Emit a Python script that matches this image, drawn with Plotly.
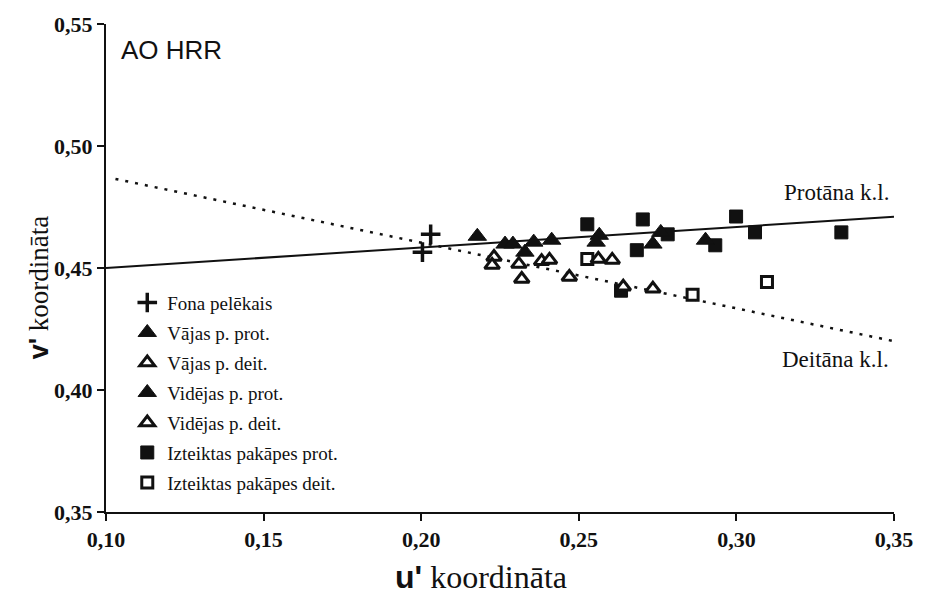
import plotly.graph_objects as go

# Confusion lines in the u'v' diagram
protan_line_u = [0.10, 0.35]
protan_line_v = [0.450, 0.471]
deutan_line_u = [0.103, 0.35]
deutan_line_v = [0.4865, 0.420]

# Background grey
fona_u = [0.2004, 0.2030]
fona_v = [0.4565, 0.4638]

# Mild anomaly
vajas_prot_u = [0.2178, 0.2266, 0.2291, 0.2357, 0.2329, 0.2414]
vajas_prot_v = [0.4630, 0.4598, 0.4598, 0.4606, 0.4565, 0.4614]
vajas_deit_u = [0.2231, 0.2225, 0.2310, 0.2319, 0.2382, 0.2407]
vajas_deit_v = [0.4545, 0.4512, 0.4516, 0.4455, 0.4528, 0.4533]

# Medium anomaly
videjas_prot_u = [0.2565, 0.2555, 0.2760, 0.2735, 0.2902]
videjas_prot_v = [0.4634, 0.4606, 0.4646, 0.4598, 0.4614]
videjas_deit_u = [0.2470, 0.2562, 0.2606, 0.2641, 0.2735]
videjas_deit_v = [0.4463, 0.4537, 0.4533, 0.4423, 0.4415]

# Severe anomaly
izt_prot_u = [0.2527, 0.2703, 0.2684, 0.2634, 0.2782, 0.2933, 0.2999, 0.3059, 0.3333]
izt_prot_v = [0.4679, 0.4699, 0.4573, 0.4407, 0.4638, 0.4593, 0.4711, 0.4646, 0.4646]
izt_deit_u = [0.2527, 0.2861, 0.3097]
izt_deit_v = [0.4537, 0.4390, 0.4443]

x_ticks = [0.10, 0.15, 0.20, 0.25, 0.30, 0.35]
x_ticktext = ["0,10", "0,15", "0,20", "0,25", "0,30", "0,35"]
y_ticks = [0.35, 0.40, 0.45, 0.50, 0.55]
y_ticktext = ["0,35", "0,40", "0,45", "0,50", "0,55"]

SERIF = "Liberation Serif"
SANS = "Liberation Sans"
BLACK = "#111111"

fig = go.Figure()

fig.add_trace(go.Scatter(x=protan_line_u, y=protan_line_v, mode="lines",
                         line=dict(color=BLACK, width=2), showlegend=False,
                         hoverinfo="skip"))
fig.add_trace(go.Scatter(x=deutan_line_u, y=deutan_line_v, mode="lines",
                         line=dict(color=BLACK, width=2.5, dash="3px,7px"),
                         showlegend=False, hoverinfo="skip"))

filled_tri = dict(symbol="triangle-up", size=16, color=BLACK,
                  line=dict(color=BLACK, width=1))
open_tri = dict(symbol="triangle-up", size=13, color="white",
                line=dict(color=BLACK, width=3))
filled_sq = dict(symbol="square", size=13, color=BLACK,
                 line=dict(color=BLACK, width=1))
open_sq = dict(symbol="square", size=11, color="white",
               line=dict(color=BLACK, width=3))
cross = dict(symbol="cross-thin", size=14, color=BLACK,
             line=dict(color=BLACK, width=3.5))

series = [
    ("Izteiktas pakāpes prot.", izt_prot_u, izt_prot_v, filled_sq, 6),
    ("Izteiktas pakāpes deit.", izt_deit_u, izt_deit_v, open_sq, 7),
    ("Vājas p. prot.", vajas_prot_u, vajas_prot_v, filled_tri, 2),
    ("Vidējas p. prot.", videjas_prot_u, videjas_prot_v, filled_tri, 4),
    ("Vājas p. deit.", vajas_deit_u, vajas_deit_v, open_tri, 3),
    ("Vidējas p. deit.", videjas_deit_u, videjas_deit_v, open_tri, 5),
    ("Fona pelēkais", fona_u, fona_v, cross, 1),
]
for name, xs, ys, marker, rank in series:
    fig.add_trace(go.Scatter(x=xs, y=ys, mode="markers", name=name,
                             marker=marker, legendrank=rank,
                             legendgroup=name))

axis_common = dict(showgrid=False, zeroline=False, showline=True,
                   linecolor=BLACK, linewidth=2, ticks="outside",
                   ticklen=7, tickwidth=1.5, tickcolor=BLACK,
                   tickfont=dict(family=SERIF, size=22, color=BLACK,
                                 weight="bold"))

prime_u = "<span style=\"font-family:'Liberation Sans';font-weight:bold\">u'</span>"
prime_v = "<span style=\"font-family:'Liberation Sans';font-weight:bold\">v'</span>"

# Plot area in pixels
ML, MR, MT, MB = 106, 25, 20, 83
W, H = 925, 595
plot_w = W - ML - MR
plot_h = H - MT - MB


def px_to_paper(px, py):
    """Pixel position (from top-left) to paper coordinates."""
    return (px - ML) / plot_w, (H - py - MB) / plot_h


xt_x, xt_y = px_to_paper(484, 578)
yt_x, yt_y = px_to_paper(38, 286)

fig.update_layout(
    width=W, height=H,
    margin=dict(l=ML, r=MR, t=MT, b=MB),
    paper_bgcolor="white", plot_bgcolor="white",
    xaxis=dict(range=[0.10, 0.35], tickvals=x_ticks, ticktext=x_ticktext,
               **axis_common),
    yaxis=dict(range=[0.35, 0.55], tickvals=y_ticks, ticktext=y_ticktext,
               **axis_common),
    legend=dict(x=0.027, y=0.468, xanchor="left", yanchor="top",
                traceorder="grouped", tracegroupgap=2.3,
                font=dict(family=SERIF, size=19, color=BLACK),
                bgcolor="rgba(0,0,0,0)"),
    showlegend=True,
    annotations=[
        dict(text=prime_u + " koordināta", x=xt_x, y=xt_y,
             xref="paper", yref="paper", showarrow=False,
             xanchor="center", yanchor="middle",
             font=dict(family=SERIF, size=32, color=BLACK)),
        dict(text=prime_v + " koordināta", x=yt_x, y=yt_y,
             xref="paper", yref="paper", showarrow=False, textangle=-90,
             xanchor="center", yanchor="middle",
             font=dict(family=SERIF, size=27, color=BLACK)),
        dict(text="AO HRR", x=0.016, y=0.982, xref="paper", yref="paper",
             xanchor="left", yanchor="top", showarrow=False,
             font=dict(family=SANS, size=26, color=BLACK)),
        dict(text="Protāna k.l.", x=0.349, y=0.481, xref="x", yref="y",
             xanchor="right", yanchor="middle", showarrow=False,
             font=dict(family=SERIF, size=23, color=BLACK)),
        dict(text="Deitāna k.l.", x=0.349, y=0.4126, xref="x", yref="y",
             xanchor="right", yanchor="middle", showarrow=False,
             font=dict(family=SERIF, size=23, color=BLACK)),
    ],
)

fig.write_html("out.html")
